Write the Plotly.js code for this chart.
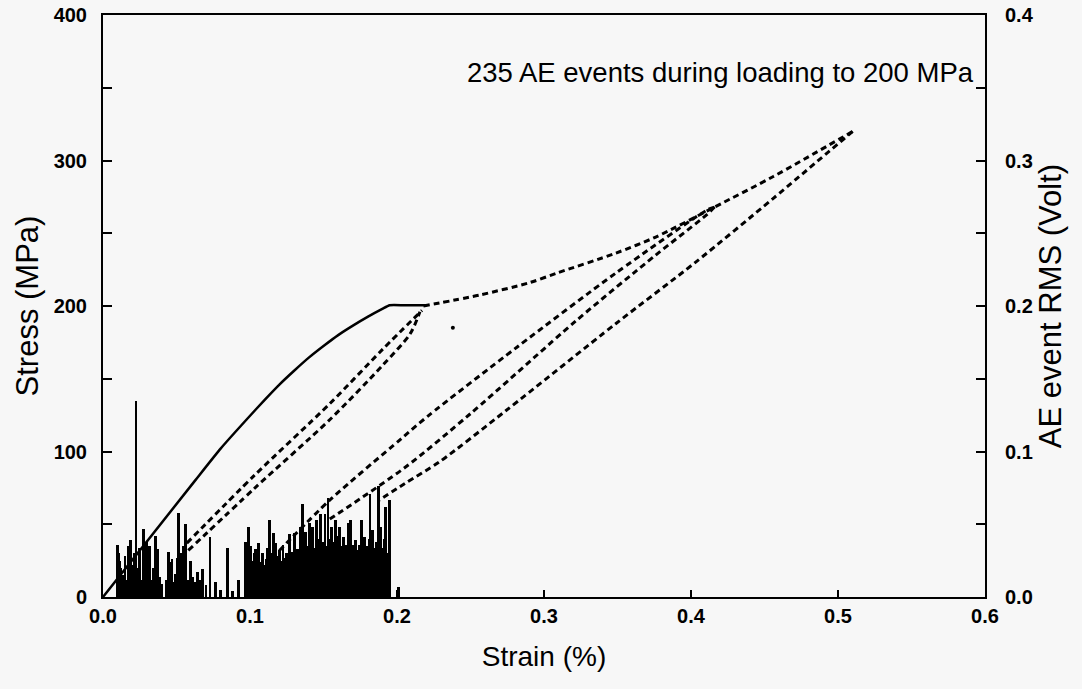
<!DOCTYPE html>
<html>
<head>
<meta charset="utf-8">
<script src="https://cdn.plot.ly/plotly-3.0.1.min.js"></script>
<style>html,body{margin:0;padding:0;background:#f7f7f7;}#chart{width:1082px;height:689px;}</style>
</head>
<body>
<div id="chart"></div>
<script>
// Loading curve (solid)
const loadStrain = [0, 0.0626, 0.08, 0.0977, 0.11, 0.12, 0.13, 0.14, 0.15, 0.16, 0.17, 0.18, 0.19, 0.195, 0.205, 0.220];
const loadStress = [0, 80, 102, 122, 135.5, 146, 155.5, 164.5, 172.5, 180, 186.5, 192.5, 198, 200.5, 200.5, 200.5];

// Unload / reload loop at 200 MPa (dashed)
const loopA1Strain = [0.057, 0.1034, 0.1544, 0.19, 0.217];
const loopA1Stress = [37, 84, 133, 170, 197];
const loopA2Strain = [0.058, 0.1034, 0.1544, 0.19, 0.209, 0.2156];
const loopA2Stress = [32, 75, 122, 159, 181, 196];

// Reloading beyond 200 MPa up to the peak (dashed)
const reloadStrain = [0.218, 0.2565, 0.29, 0.309, 0.349, 0.376, 0.416, 0.456, 0.51];
const reloadStress = [200, 207.6, 216, 222.7, 236.4, 247.4, 268, 289, 320];

// Unload / reload loop from ~268 MPa (dashed)
const loopR1Strain = [0.416, 0.411, 0.349, 0.282, 0.2206, 0.202, 0.1544, 0.12];
const loopR1Stress = [268, 266, 222.7, 172, 124, 108, 66.7, 32];
const loopR2Strain = [0.416, 0.411, 0.376, 0.322, 0.25, 0.2054, 0.152];
const loopR2Stress = [268, 263, 235, 190, 126, 89, 52];

// Unloading from the peak (dashed)
const unloadStrain = [0.51, 0.456, 0.403, 0.349, 0.274, 0.229, 0.2054, 0.187];
const unloadStress = [320, 274, 230, 188, 128, 93, 78, 66];

// Stray point
const strayStrain = [0.238];
const strayStress = [185];

// AE events: strain (%) and RMS (Volt)
const aeStrain = [
0.0100,0.0104,0.0108,0.0112,0.0115,0.0120,0.0125,0.0130,0.0135,0.0142,0.0150,0.0155,0.0160,0.0168,0.0175,0.0180,0.0185,0.0190,0.0195,0.0200,
0.0205,0.0210,0.0215,0.0220,0.0224,0.0228,0.0232,0.0236,0.0240,0.0245,0.0250,0.0256,0.0262,0.0268,0.0274,0.0280,0.0285,0.0290,0.0295,0.0300,
0.0305,0.0311,0.0318,0.0324,0.0330,0.0337,0.0345,0.0352,0.0358,0.0364,0.0370,0.0377,0.0385,0.0392,0.0400,0.0430,0.0445,0.0450,0.0455,0.0462,
0.0470,0.0480,0.0490,0.0498,0.0505,0.0510,0.0515,0.0522,0.0530,0.0538,0.0545,0.0553,0.0562,0.0568,0.0575,0.0595,0.0610,0.0630,0.0644,0.0660,
0.0676,0.0700,0.0728,0.0765,0.0800,0.0848,0.0880,0.0920,0.0970,0.0989,
0.1005,0.1010,0.1016,0.1022,0.1028,0.1034,0.1040,0.1046,0.1052,0.1057,0.1063,0.1069,0.1075,0.1081,0.1087,0.1093,0.1099,0.1105,0.1111,0.1117,
0.1123,0.1130,0.1136,0.1142,0.1148,0.1154,0.1160,0.1166,0.1172,0.1177,0.1183,0.1189,0.1195,0.1200,0.1206,0.1212,0.1218,0.1224,0.1230,0.1236,
0.1242,0.1247,0.1253,0.1259,0.1265,0.1270,0.1276,0.1282,0.1288,0.1294,0.1300,0.1304,0.1310,0.1316,0.1322,0.1328,0.1334,0.1340,0.1346,0.1352,
0.1356,0.1362,0.1368,0.1374,0.1380,0.1386,0.1392,0.1398,0.1403,0.1409,0.1415,0.1420,0.1426,0.1432,0.1438,0.1444,0.1450,0.1456,0.1462,0.1468,
0.1474,0.1480,0.1486,0.1492,0.1498,0.1504,0.1510,0.1516,0.1522,0.1530,0.1536,0.1542,0.1548,0.1555,0.1561,0.1567,0.1573,0.1580,0.1586,0.1592,
0.1598,0.1604,0.1610,0.1616,0.1622,0.1628,0.1635,0.1641,0.1647,0.1653,0.1660,0.1666,0.1672,0.1678,0.1685,0.1691,0.1697,0.1703,0.1710,0.1716,
0.1722,0.1728,0.1735,0.1741,0.1747,0.1753,0.1760,0.1766,0.1772,0.1778,0.1785,0.1791,0.1797,0.1803,0.1810,0.1816,0.1822,0.1828,0.1835,0.1841,
0.1847,0.1853,0.1860,0.1866,0.1872,0.1878,0.1884,0.1890,0.1896,0.1902,0.1908,0.1914,0.1920,0.1926,0.1932,0.1938,0.1944,0.1948,0.1952,0.2009
];
const aeRms = [
0.036,0.030,0.014,0.025,0.008,0.020,0.012,0.015,0.010,0.008,0.028,0.010,0.012,0.006,0.035,0.010,0.039,0.014,0.022,0.008,
0.010,0.012,0.030,0.009,0.135,0.012,0.008,0.010,0.020,0.012,0.034,0.010,0.012,0.009,0.047,0.014,0.030,0.012,0.038,0.010,
0.015,0.012,0.035,0.009,0.010,0.012,0.020,0.010,0.042,0.012,0.033,0.010,0.014,0.006,0.009,0.012,0.031,0.010,0.024,0.012,
0.026,0.010,0.016,0.012,0.027,0.010,0.058,0.012,0.030,0.010,0.035,0.014,0.050,0.012,0.012,0.025,0.014,0.010,0.017,0.012,
0.019,0.008,0.041,0.010,0.005,0.034,0.004,0.012,0.038,0.048,
0.035,0.018,0.025,0.012,0.030,0.020,0.033,0.015,0.028,0.037,0.018,0.024,0.012,0.020,0.030,0.016,0.022,0.014,0.026,0.034,
0.019,0.053,0.021,0.028,0.015,0.030,0.044,0.022,0.018,0.037,0.024,0.016,0.028,0.032,0.020,0.025,0.014,0.036,0.022,0.027,
0.018,0.030,0.024,0.016,0.029,0.043,0.026,0.020,0.031,0.024,0.035,0.044,0.028,0.022,0.033,0.026,0.030,0.048,0.030,0.036,
0.064,0.034,0.028,0.038,0.045,0.030,0.035,0.026,0.051,0.032,0.028,0.037,0.048,0.030,0.034,0.026,0.053,0.031,0.036,0.028,
0.040,0.057,0.033,0.028,0.038,0.031,0.057,0.035,0.030,0.068,0.033,0.040,0.028,0.048,0.034,0.030,0.038,0.053,0.032,0.036,
0.027,0.042,0.048,0.030,0.035,0.028,0.041,0.031,0.026,0.036,0.030,0.051,0.034,0.028,0.053,0.031,0.036,0.025,0.033,0.039,
0.030,0.024,0.032,0.028,0.036,0.030,0.053,0.033,0.027,0.041,0.030,0.035,0.026,0.033,0.040,0.071,0.032,0.028,0.046,0.030,
0.034,0.026,0.038,0.032,0.076,0.030,0.036,0.048,0.028,0.034,0.030,0.040,0.062,0.030,0.024,0.020,0.030,0.067,0.015,0.007
];

const dashStyle = {color: '#000', width: 3, dash: '6px,4px', shape: 'spline', smoothing: 0.8};

const traces = [
  {x: aeStrain, y: aeRms, type: 'bar', yaxis: 'y2', width: 0.0019,
   marker: {color: '#000', line: {width: 0}}, hoverinfo: 'skip'},
  {x: loadStrain, y: loadStress, mode: 'lines', line: {color: '#000', width: 2.5, shape: 'spline', smoothing: 0.5}},
  {x: loopA1Strain, y: loopA1Stress, mode: 'lines', line: dashStyle},
  {x: loopA2Strain, y: loopA2Stress, mode: 'lines', line: dashStyle},
  {x: reloadStrain, y: reloadStress, mode: 'lines', line: dashStyle},
  {x: loopR1Strain, y: loopR1Stress, mode: 'lines', line: dashStyle},
  {x: loopR2Strain, y: loopR2Stress, mode: 'lines', line: dashStyle},
  {x: unloadStrain, y: unloadStress, mode: 'lines', line: dashStyle},
  {x: strayStrain, y: strayStress, mode: 'markers', marker: {color: '#000', size: 4}}
];

const tickFont = {family: 'Liberation Sans, Arial, sans-serif', size: 20, color: '#000', weight: 'bold'};
const vTitleFont = {family: 'Liberation Sans, Arial, sans-serif', size: 31, color: '#000'};
const hTitleFont = {family: 'Liberation Sans, Arial, sans-serif', size: 28, color: '#000'};

const layout = {
  width: 1082, height: 689,
  margin: {l: 103, r: 97, t: 15, b: 92},
  paper_bgcolor: '#f7f7f7', plot_bgcolor: '#f7f7f7',
  showlegend: false,
  bargap: 0,
  xaxis: {
    range: [0, 0.6], dtick: 0.1, tick0: 0, tickformat: '.1f',
    ticks: 'inside', ticklen: 7, tickwidth: 2, tickcolor: '#000',
    showline: true, linecolor: '#000', linewidth: 2, mirror: true,
    showgrid: false, zeroline: false,
    tickfont: tickFont,
    title: {text: 'Strain (%)', font: hTitleFont, standoff: 20}
  },
  yaxis: {
    range: [0, 400], dtick: 100, tick0: 0,
    ticks: 'inside', ticklen: 9, tickwidth: 2, tickcolor: '#000',
    minor: {dtick: 50, ticks: 'inside', ticklen: 9, tickwidth: 2, tickcolor: '#000', showgrid: false},
    showline: true, linecolor: '#000', linewidth: 2,
    showgrid: false, zeroline: false,
    tickfont: tickFont, ticklabelstandoff: 10,
    title: {text: 'Stress (MPa)', font: vTitleFont, standoff: 6}
  },
  yaxis2: {
    overlaying: 'y', side: 'right',
    range: [0, 0.4], dtick: 0.1, tick0: 0, tickformat: '.1f',
    ticks: 'inside', ticklen: 9, tickwidth: 2, tickcolor: '#000',
    minor: {dtick: 0.05, ticks: 'inside', ticklen: 9, tickwidth: 2, tickcolor: '#000', showgrid: false},
    showline: true, linecolor: '#000', linewidth: 2,
    showgrid: false, zeroline: false,
    tickfont: tickFont, ticklabelstandoff: 14,
    title: {text: 'AE event RMS (Volt)', font: vTitleFont, standoff: 0}
  },
  annotations: [{
    xref: 'paper', yref: 'paper', x: 0.99, y: 0.902,
    xanchor: 'right', yanchor: 'middle', showarrow: false,
    text: '235 AE events during loading to 200 MPa',
    font: {family: 'Liberation Sans, Arial, sans-serif', size: 27.5, color: '#000'}
  }]
};

Plotly.newPlot('chart', traces, layout, {displayModeBar: false, staticPlot: true});
</script>
</body>
</html>
